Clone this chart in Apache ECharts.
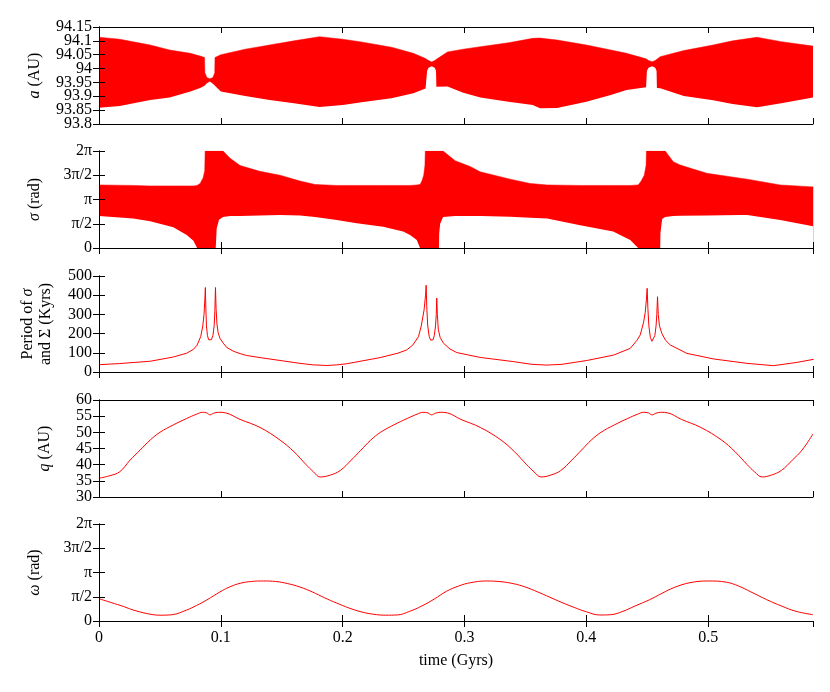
<!DOCTYPE html>
<html>
<head>
<meta charset="utf-8">
<script src="https://cdn.jsdelivr.net/npm/echarts@6/dist/echarts.min.js"></script>
<style>html,body{margin:0;padding:0;background:#fff}#c{width:830px;height:692px}</style>
</head>
<body>
<div id="c"></div>
<script>
// ---------- Panel 1: semi-major axis a (AU), oscillation envelope ----------
const tA = [0,0.017,0.042,0.058,0.075,0.083,0.0866,0.0869,0.0885,0.091,0.0935,0.095,0.0952,0.1,0.12,0.14,0.16,0.181,0.2,0.214,0.24,0.258,0.268,0.2690,0.2693,0.2705,0.273,0.2755,0.2766,0.2769,0.2775,0.286,0.299,0.313,0.336,0.356,0.362,0.376,0.4,0.42,0.433,0.449,0.4495,0.4497,0.451,0.454,0.4565,0.4576,0.4579,0.4606,0.48,0.504,0.52,0.54,0.56,0.586];
const aUpper = [94.113,94.106,94.085,94.067,94.055,94.045,94.040,93.985,93.968,93.963,93.968,93.985,94.040,94.05,94.07,94.085,94.100,94.115,94.106,94.097,94.077,94.055,94.036,94.034,94.033,94.029,94.024,94.029,94.032,94.033,94.035,94.06,94.07,94.079,94.093,94.109,94.110,94.103,94.085,94.067,94.055,94.035,94.034,94.033,94.029,94.025,94.029,94.032,94.033,94.043,94.065,94.085,94.1,94.113,94.097,94.081];
const aLower = [93.859,93.865,93.887,93.896,93.917,93.930,93.938,93.939,93.947,93.953,93.945,93.938,93.937,93.917,93.901,93.887,93.875,93.861,93.869,93.878,93.893,93.911,93.928,93.930,93.992,94.003,94.008,94.003,93.992,93.934,93.934,93.935,93.913,93.896,93.88,93.869,93.857,93.858,93.88,93.905,93.923,93.933,93.935,93.992,94.003,94.008,94.003,93.992,93.93,93.929,93.901,93.886,93.872,93.86,93.875,93.896];

// ---------- Panel 2: resonant angle sigma (in units of pi), envelope ----------
const tSigma = [0,0.028,0.042,0.061,0.072,0.0775,0.0805,0.083,0.0855,0.0868,0.0871,0.0958,0.0961,0.0966,0.0985,0.1018,0.1076,0.1158,0.132,0.1486,0.165,0.1773,0.1951,0.2116,0.2332,0.2496,0.2553,0.2608,0.2635,0.265,0.2665,0.2675,0.2678,0.2790,0.2792,0.2800,0.2824,0.2833,0.2923,0.3046,0.3128,0.321,0.3374,0.3539,0.3678,0.3949,0.422,0.436,0.4425,0.445,0.4475,0.449,0.4493,0.4606,0.4608,0.4622,0.4647,0.4713,0.477,0.4989,0.5263,0.532,0.5591,0.5862];
const sigmaUpperPi = [1.30,1.29,1.28,1.28,1.28,1.28,1.29,1.33,1.45,1.6,2,2,2,2,2,2,1.85,1.7,1.58,1.50,1.38,1.31,1.29,1.29,1.29,1.29,1.29,1.30,1.31,1.38,1.5,1.7,2,2,2,2,2,2,1.8,1.68,1.57,1.52,1.42,1.33,1.30,1.29,1.29,1.29,1.30,1.38,1.5,1.7,2,2,2,2,2,1.78,1.71,1.54,1.44,1.42,1.30,1.26];
const sigmaLowerPi = [0.66,0.61,0.55,0.43,0.27,0.15,0,0,0,0,0,0,0.15,0.4,0.58,0.64,0.66,0.66,0.67,0.68,0.67,0.64,0.577,0.51,0.44,0.34,0.27,0.165,0,0,0,0,0,0,0.3,0.5,0.64,0.66,0.66,0.66,0.66,0.655,0.645,0.625,0.61,0.47,0.34,0.165,0,0,0,0,0,0,0.31,0.6,0.64,0.66,0.665,0.67,0.68,0.68,0.577,0.45];

// ---------- Panel 3: libration period (Kyrs) ----------
const tPeriod = [0,0.017,0.042,0.061,0.0665,0.072,0.0775,0.0805,0.0835,0.0852,0.0862,0.0869,0.0873,0.0877,0.0882,0.089,0.0900,0.0911,0.0922,0.0935,0.0945,0.0951,0.0956,0.0961,0.0968,0.0978,0.0993,0.102,0.1048,0.1103,0.1158,0.1212,0.1322,0.1486,0.165,0.176,0.187,0.195,0.2034,0.2307,0.2453,0.2526,0.2575,0.2622,0.2645,0.2668,0.2680,0.2685,0.2690,0.2698,0.2710,0.2722,0.2731,0.2742,0.2752,0.2762,0.2768,0.2772,0.2777,0.2785,0.2800,0.2827,0.2880,0.2937,0.3128,0.3402,0.355,0.3676,0.38,0.4004,0.4223,0.436,0.4415,0.4442,0.4470,0.4483,0.4493,0.4499,0.4505,0.4513,0.4525,0.4538,0.455,0.4562,0.4572,0.4578,0.4584,0.4590,0.4600,0.462,0.4650,0.4688,0.4825,0.5044,0.5318,0.5536,0.5728,0.5865];
const period = [38,44,56,78,88,98,118,140,185,240,300,380,440,330,240,190,168,162,168,190,240,320,440,330,250,205,175,150,128,108,96,86,75,60,45,37,34,37,43,75,98,115,140,184,240,323,400,452,340,240,185,166,162,168,190,240,300,385,300,220,180,150,120,101,76,54,40,36,40,60,88,123,165,193,260,310,380,436,330,240,180,160,166,190,240,300,392,300,240,200,165,141,97,68,45,33,50,66];

// ---------- Panel 4: perihelion distance q (AU) ----------
const tQ = [0,0.009,0.017,0.0255,0.0337,0.042,0.05,0.061,0.072,0.08,0.085,0.0885,0.091,0.094,0.098,0.104,0.1158,0.1322,0.1486,0.16,0.17,0.176,0.1815,0.19,0.198,0.207,0.215,0.223,0.231,0.242,0.253,0.261,0.266,0.27,0.273,0.276,0.28,0.286,0.297,0.313,0.33,0.341,0.351,0.357,0.3628,0.371,0.379,0.388,0.396,0.404,0.412,0.423,0.434,0.442,0.447,0.451,0.454,0.457,0.461,0.467,0.478,0.494,0.511,0.522,0.532,0.538,0.5443,0.552,0.56,0.569,0.577,0.586];
const q = [35.8,36.6,37.8,41.4,44.5,47.6,50.0,52.3,54.3,55.6,56.2,56.0,55.4,55.9,56.2,56.0,54.0,51.5,47.6,44.0,40.0,37.8,36.2,36.8,38.2,41.4,44.5,47.6,50.0,52.3,54.3,55.6,56.2,56.0,55.4,55.9,56.2,56.0,54.0,51.5,47.6,44.0,40.0,37.8,36.2,36.8,38.2,41.4,44.5,47.6,50.0,52.3,54.3,55.6,56.2,56.0,55.4,55.9,56.2,56.0,54.0,51.5,47.6,44.0,40.0,37.8,36.2,36.8,38.2,41.4,44.5,49.5];

// ---------- Panel 5: argument of perihelion omega (in units of pi) ----------
const tOmega = [0,0.01,0.02,0.028,0.04,0.05,0.06,0.072,0.08,0.0884,0.0993,0.107,0.1158,0.125,0.135,0.145,0.155,0.165,0.175,0.185,0.195,0.205,0.215,0.225,0.235,0.245,0.255,0.265,0.275,0.285,0.295,0.305,0.318,0.33,0.34,0.35,0.36,0.37,0.38,0.39,0.40,0.411,0.42,0.43,0.44,0.452,0.462,0.472,0.485,0.50,0.515,0.525,0.535,0.548,0.56,0.572,0.586];
const omegaPi = [0.46,0.38,0.30,0.227,0.15,0.12,0.13,0.227,0.32,0.433,0.60,0.70,0.777,0.815,0.825,0.815,0.77,0.70,0.60,0.48,0.37,0.27,0.19,0.14,0.12,0.125,0.20,0.31,0.45,0.61,0.72,0.79,0.825,0.81,0.77,0.70,0.60,0.49,0.38,0.28,0.19,0.124,0.13,0.20,0.31,0.44,0.57,0.69,0.79,0.825,0.80,0.72,0.60,0.44,0.31,0.20,0.13];

// ---------- axis settings ----------
const xMax = 0.586;
const piTickLabels = ['0','π/2','π','3π/2','2π'];

const FONT = 'Liberation Serif';
const FS = 16;
const chart = echarts.init(document.getElementById('c'), null, {renderer: 'canvas'});

const tops = [27,151,276,400,524];
const heights = [97,97,96,97,97];
const panels = [
  {min:93.8, max:94.15, interval:0.05, name:'{i|a} (AU)', gap:55, fmt:null},
  {min:0, max:2, interval:0.5, name:'{i|σ} (rad)', gap:55, fmt:(v)=>piTickLabels[Math.round(v*2)]},
  {min:0, max:500, interval:100, name:'Period of {i|σ}\nand Σ (Kyrs)', gap:44, fmt:null},
  {min:30, max:60, interval:5, name:'{i|q} (AU)', gap:45, fmt:null},
  {min:0, max:2, interval:0.5, name:'{i|ω} (rad)', gap:55, fmt:(v)=>piTickLabels[Math.round(v*2)]}
];

const grid = [], xAxis = [], yAxis = [];
const line = {show:true, lineStyle:{color:'#000', width:1}};
const tick = {show:true, inside:true, length:6, lineStyle:{color:'#000', width:1}};
function labelText(p, v) {
  return p.fmt ? p.fmt(v) : String(+v.toFixed(2));
}
panels.forEach((p, i) => {
  grid.push({left:99, right:17, top:tops[i], height:heights[i]});
  const last = i === panels.length - 1;
  xAxis.push({
    type:'value', gridIndex:i, position:'bottom', min:0, max:xMax, interval:0.1, z:10,
    axisLine:line, axisTick:tick, splitLine:{show:false},
    axisLabel:{show:last, color:'#000', fontFamily:FONT, fontSize:FS, margin:9, showMaxLabel:false,
      formatter:(v)=> (Math.abs(v*10 - Math.round(v*10)) < 1e-6 ? String(Math.round(v*10)/10) : '')},
    name: last ? 'time (Gyrs)' : '', nameLocation:'middle', nameGap:32,
    nameTextStyle:{color:'#000', fontFamily:FONT, fontSize:FS}
  });
  xAxis.push({
    type:'value', gridIndex:i, position:'top', min:0, max:xMax, interval:0.1, z:10,
    axisLine:line, axisTick:tick, splitLine:{show:false}, axisLabel:{show:false}
  });
  const lab = (parity) => ({
    color:'#000', fontFamily:FONT, fontSize:FS, margin:7,
    showMinLabel:true, showMaxLabel:true,
    formatter:(v)=> {
      const k = Math.round((v - p.min)/p.interval);
      return (k % 2 === parity) ? labelText(p, v) : '';
    }
  });
  // left axis (frame, ticks, even labels, title)
  yAxis.push({
    type:'value', gridIndex:i, position:'left', min:p.min, max:p.max, interval:p.interval, z:10,
    axisLine:line, axisTick:tick, splitLine:{show:false}, axisLabel:lab(0),
    name:p.name, nameLocation:'middle', nameGap:p.gap, nameRotate:90,
    nameTextStyle:{color:'#000', fontFamily:FONT, fontSize:FS, lineHeight:18,
      rich:{i:{fontStyle:'italic', fontFamily:FONT, fontSize:FS, color:'#000'}}}
  });
  // right mirror axis
  yAxis.push({
    type:'value', gridIndex:i, position:'right', min:p.min, max:p.max, interval:p.interval, z:10,
    axisLine:line, axisTick:tick, splitLine:{show:false}, axisLabel:{show:false}
  });
  // second left axis carrying the odd labels
  yAxis.push({
    type:'value', gridIndex:i, position:'left', offset:0, min:p.min, max:p.max, interval:p.interval, z:10,
    axisLine:{show:false}, axisTick:{show:false}, splitLine:{show:false}, axisLabel:lab(1)
  });
});

const RED = '#ff0000';
// filled envelope: red area under the upper edge, then white area under the lower edge
function band(ti, up, lo, idx) {
  return [
    {type:'line', xAxisIndex:2*idx, yAxisIndex:3*idx, symbol:'none', z:2,
     lineStyle:{color:RED, width:0.5}, areaStyle:{color:RED, opacity:1, origin:'start'},
     data: ti.map((t,k)=>[t, up[k]]), silent:true, animation:false},
    {type:'line', xAxisIndex:2*idx, yAxisIndex:3*idx, symbol:'none', z:3,
     lineStyle:{width:0, opacity:0}, areaStyle:{color:'#fff', opacity:1, origin:'start'},
     data: ti.map((t,k)=>[t, lo[k]]), silent:true, animation:false}
  ];
}
function curve(ti, v, idx, smooth) {
  return {type:'line', xAxisIndex:2*idx, yAxisIndex:3*idx, symbol:'none', smooth:smooth,
    lineStyle:{color:RED, width:1}, data: ti.map((t,k)=>[t, v[k]]), silent:true, animation:false};
}

const series = [
  ...band(tA, aUpper, aLower, 0),
  ...band(tSigma, sigmaUpperPi, sigmaLowerPi, 1),
  curve(tPeriod, period, 2, false),
  curve(tQ, q, 3, 0.4),
  curve(tOmega, omegaPi, 4, 0.4)
];

chart.setOption({
  animation:false,
  backgroundColor:'#fff',
  textStyle:{fontFamily:FONT},
  grid, xAxis, yAxis, series
});
</script>
</body>
</html>
